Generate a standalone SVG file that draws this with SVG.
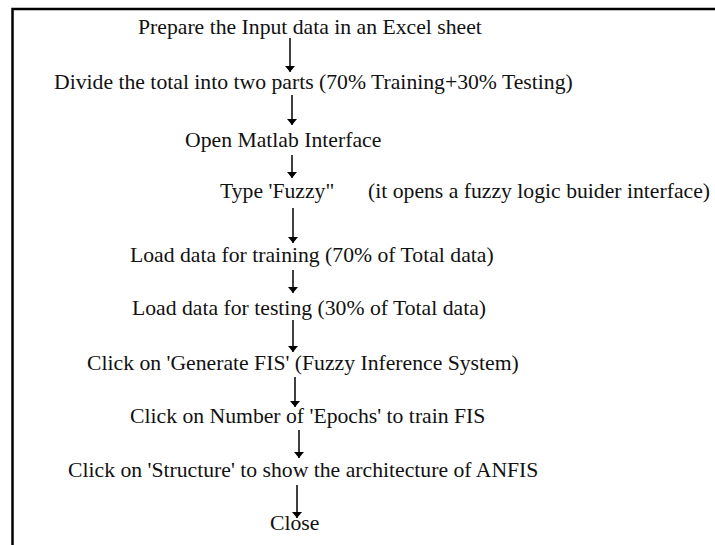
<svg xmlns="http://www.w3.org/2000/svg" width="715" height="545" viewBox="0 0 715 545">
  <style>
    .lbl { font-family: "Liberation Serif", "Times New Roman", serif; font-size: 21.7px; fill: #111; }
    .edge { stroke: #000; stroke-width: 1.5; fill: none; marker-end: url(#head); }
    .frame { stroke: #000; stroke-width: 2.5; fill: none; }
  </style>
  <defs>
    <marker id="head" viewBox="0 0 6 10" refX="6" refY="5" markerWidth="6" markerHeight="10" markerUnits="userSpaceOnUse" orient="auto">
      <path d="M0,0 L6,5 L0,10 Z" fill="#000"/>
    </marker>
  </defs>
  <rect width="715" height="545" fill="#fff"/>
  <!-- open frame: top and left edges only -->
  <path class="frame" d="M12.5,545 V9 H715"/>

  <g id="connectors">
    <line class="edge" x1="290" y1="38" x2="290" y2="72"/>
    <line class="edge" x1="292" y1="95" x2="292" y2="125"/>
    <line class="edge" x1="292" y1="155" x2="292" y2="178"/>
    <line class="edge" x1="293" y1="208" x2="293" y2="243"/>
    <line class="edge" x1="293" y1="270" x2="293" y2="293"/>
    <line class="edge" x1="293" y1="320" x2="293" y2="352"/>
    <line class="edge" x1="295" y1="377" x2="295" y2="407"/>
    <line class="edge" x1="299" y1="430" x2="299" y2="458"/>
    <line class="edge" x1="297" y1="485" x2="297" y2="518"/>
  </g>

  <g id="n1"><text class="lbl" x="138" y="34">Prepare the Input data in an Excel sheet</text></g>
  <g id="n2"><text class="lbl" x="54" y="89">Divide the total into two parts (70% Training+30% Testing)</text></g>
  <g id="n3"><text class="lbl" x="185" y="147">Open Matlab Interface</text></g>
  <g id="n4">
    <text class="lbl" x="220" y="198">Type 'Fuzzy"</text>
    <text class="lbl" x="368" y="198">(it opens a fuzzy logic buider interface)</text>
  </g>
  <g id="n5"><text class="lbl" x="130" y="262">Load data for training (70% of Total data)</text></g>
  <g id="n6"><text class="lbl" x="132" y="315">Load data for testing (30% of Total data)</text></g>
  <g id="n7"><text class="lbl" x="87" y="370">Click on 'Generate FIS' (Fuzzy Inference System)</text></g>
  <g id="n8"><text class="lbl" x="130" y="423">Click on Number of 'Epochs' to train FIS</text></g>
  <g id="n9"><text class="lbl" x="68" y="477">Click on 'Structure' to show the architecture of ANFIS</text></g>
  <g id="n10"><text class="lbl" x="270" y="530">Close</text></g>
</svg>
